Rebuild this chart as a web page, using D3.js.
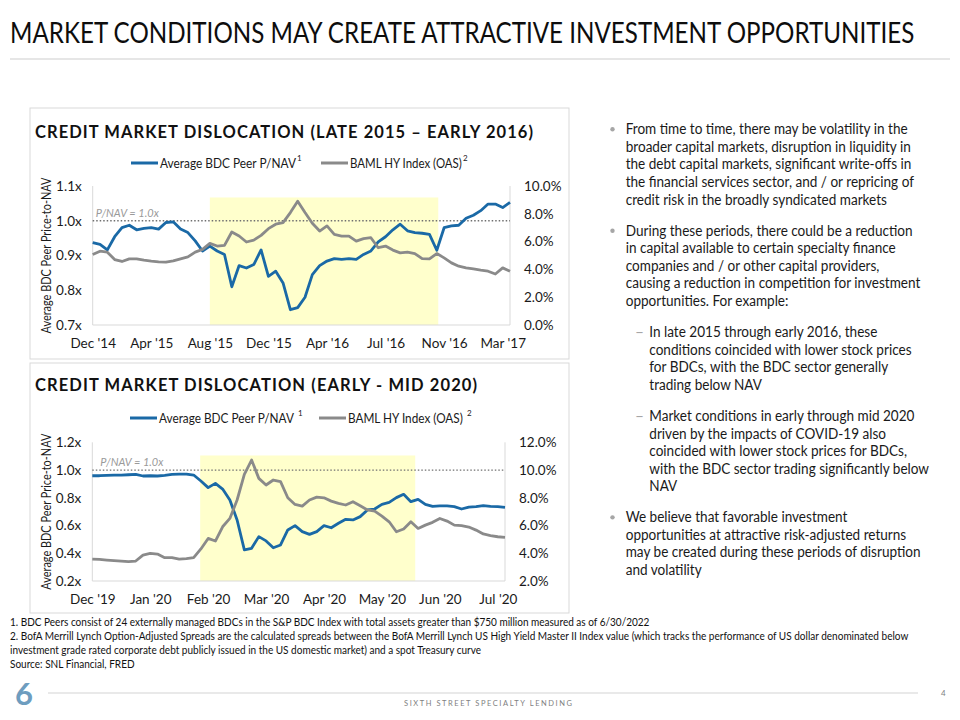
<!DOCTYPE html>
<html>
<head>
<meta charset="utf-8">
<script src="https://cdn.jsdelivr.net/npm/d3@7"></script>
<style>
  body { margin: 0; background: #fff; }
  svg { display: block; }
  text { font-family: Lato, "Open Sans", "DejaVu Sans", sans-serif; }
</style>
</head>
<body>
<svg id="slide" width="960" height="720"></svg>
<script>
// ---- data ----
const topTicks = ["Dec '14", "Apr '15", "Aug '15", "Dec '15", "Apr '16", "Jul '16", "Nov '16", "Mar '17"];
const topPNav = [0.937, 0.932, 0.916, 0.954, 0.980, 0.987, 0.974, 0.978, 0.980, 0.976,
  0.995, 0.997, 0.976, 0.966, 0.942, 0.913, 0.927, 0.913, 0.903, 0.810,
  0.871, 0.864, 0.874, 0.916, 0.840, 0.855, 0.821, 0.744, 0.750, 0.780,
  0.845, 0.871, 0.884, 0.891, 0.889, 0.891, 0.889, 0.903, 0.913, 0.939,
  0.954, 0.974, 0.990, 0.971, 0.966, 0.964, 0.961, 0.915, 0.980, 0.985,
  0.987, 1.007, 1.016, 1.029, 1.048, 1.048, 1.038, 1.053];
const topOas = [5.07, 5.31, 5.24, 4.71, 4.57, 4.76, 4.76, 4.66, 4.59, 4.54,
  4.52, 4.61, 4.76, 4.90, 5.24, 5.44, 5.87, 5.68, 5.73, 6.69,
  6.40, 5.97, 6.11, 6.45, 6.93, 7.25, 7.37, 8.09, 8.90, 8.09,
  7.32, 6.76, 7.13, 6.52, 6.40, 6.40, 6.04, 6.21, 6.28, 5.56,
  5.68, 5.39, 5.19, 5.24, 5.14, 4.78, 4.76, 5.14, 4.83, 4.47,
  4.23, 4.11, 4.03, 3.94, 3.87, 3.67, 4.11, 3.87];
const topShade = [16.0, 47.2];

const bottomTicks = ["Dec '19", "Jan '20", "Feb '20", "Mar '20", "Apr '20", "May '20", "Jun '20", "Jul '20"];
const bottomPNav = [0.959, 0.959, 0.962, 0.964, 0.964, 0.966, 0.969, 0.957, 0.959, 0.957,
  0.962, 0.969, 0.971, 0.971, 0.964, 0.921, 0.873, 0.904, 0.863, 0.784,
  0.640, 0.424, 0.436, 0.520, 0.489, 0.440, 0.460, 0.568, 0.599, 0.556,
  0.536, 0.556, 0.599, 0.584, 0.616, 0.645, 0.640, 0.664, 0.712, 0.719,
  0.753, 0.767, 0.801, 0.825, 0.772, 0.789, 0.753, 0.738, 0.741, 0.741,
  0.736, 0.719, 0.733, 0.736, 0.743, 0.738, 0.736, 0.731];
const bottomOas = [3.58, 3.56, 3.51, 3.47, 3.44, 3.39, 3.44, 3.87, 3.99, 3.94,
  3.68, 3.68, 3.58, 3.61, 3.68, 4.31, 5.07, 4.88, 5.91, 6.51,
  7.84, 9.69, 10.72, 9.40, 8.92, 9.28, 9.16, 8.00, 7.52, 7.40,
  7.84, 8.05, 8.00, 7.76, 7.60, 7.48, 7.72, 7.43, 7.12, 7.04,
  6.68, 6.27, 5.55, 5.75, 6.27, 5.79, 6.03, 6.23, 6.51, 6.32,
  6.03, 5.99, 5.89, 5.67, 5.39, 5.27, 5.19, 5.15];
const bottomShade = [14.9, 44.6];

const seriesNames = ["Average BDC Peer P/NAV", "BAML HY Index (OAS)"];

const bullets = [
  { kind: "bullet", lines: ["From time to time, there may be volatility in the",
    "broader capital markets, disruption in liquidity in",
    "the debt capital markets, significant write-offs in",
    "the financial services sector, and / or repricing of",
    "credit risk in the broadly syndicated markets"] },
  { kind: "bullet", lines: ["During these periods, there could be a reduction",
    "in capital available to certain specialty finance",
    "companies and / or other capital providers,",
    "causing a reduction in competition for investment",
    "opportunities. For example:"] },
  { kind: "dash", lines: ["In late 2015 through early 2016, these",
    "conditions coincided with lower stock prices",
    "for BDCs, with the BDC sector generally",
    "trading below NAV"] },
  { kind: "dash", lines: ["Market conditions in early through mid 2020",
    "driven by the impacts of COVID-19 also",
    "coincided with lower stock prices for BDCs,",
    "with the BDC sector trading significantly below",
    "NAV"] },
  { kind: "bullet", lines: ["We believe that favorable investment",
    "opportunities at attractive risk-adjusted returns",
    "may be created during these periods of disruption",
    "and volatility"] }
];

const footnotes = [
  "1. BDC Peers consist of 24 externally managed BDCs in the S&P BDC Index with total assets greater than $750 million measured as of 6/30/2022",
  "2. BofA Merrill Lynch Option-Adjusted Spreads are the calculated spreads between the BofA Merrill Lynch US High Yield Master II Index value (which tracks the performance of US dollar denominated below",
  "investment grade rated corporate debt publicly issued in the US domestic market) and a spot Treasury curve",
  "Source: SNL Financial, FRED"
];

const BLUE = "#1a69a6";
const GRAY = "#8a8a8a";

const svg = d3.select("svg#slide");

// squeeze a text horizontally so it spans `w` px (slide font is narrower than ours)
function squeezeTo(t, x, y, w) {
  const nat = t.node().getComputedTextLength();
  t.attr("x", 0).attr("y", 0).attr("transform", `translate(${x},${y}) scale(${w / nat},1)`);
}

// ---- slide header ----
const title = svg.append("text")
  .attr("font-size", 28).attr("fill", "#0d0d0d")
  .text("MARKET CONDITIONS MAY CREATE ATTRACTIVE INVESTMENT OPPORTUNITIES");
squeezeTo(title, 10, 43, 905);
svg.append("line").attr("x1", 10).attr("x2", 950).attr("y1", 59).attr("y2", 59)
  .attr("stroke", "#dedede").attr("stroke-width", 1.5);

function drawChart(cfg) {
  const g = svg.append("g");
  g.append("rect")
    .attr("x", cfg.box[0]).attr("y", cfg.box[1])
    .attr("width", cfg.box[2] - cfg.box[0]).attr("height", cfg.box[3] - cfg.box[1])
    .attr("fill", "none").attr("stroke", "#d9d9d9");

  g.append("text")
    .attr("x", 35).attr("y", cfg.titleY)
    .attr("font-size", 16.5).attr("font-weight", 700).attr("fill", "#111")
    .attr("textLength", cfg.titleW).attr("lengthAdjust", "spacing")
    .text(cfg.title);

  // legend
  const lg = g.append("g").attr("font-size", 12.5).attr("fill", "#1a1a1a");
  const ly = cfg.legendY;
  [[cfg.leg[0], BLUE, seriesNames[0], "1", cfg.legW[0]], [cfg.leg[1], GRAY, seriesNames[1], "2", cfg.legW[1]]]
    .forEach(([xs, col, name, sup, w]) => {
      lg.append("line").attr("x1", xs).attr("x2", xs + 27).attr("y1", ly).attr("y2", ly)
        .attr("stroke", col).attr("stroke-width", 3);
      const t = lg.append("text").text(name);
      squeezeTo(t, xs + 29, ly + 4.5, w);
      lg.append("text").attr("x", xs + 29 + w + cfg.supDx).attr("y", ly - 2)
        .attr("font-size", 8).text(sup);
    });

  const n = cfg.pnav.length;
  const x = d3.scaleLinear().domain([0, n - 1]).range([cfg.x0, cfg.x1]);
  const yL = d3.scaleLinear().domain(cfg.leftDomain).range([cfg.yB, cfg.yT]);
  const yR = d3.scaleLinear().domain(cfg.rightDomain).range([cfg.yB, cfg.yT]);

  // highlighted dislocation window
  g.append("rect")
    .attr("x", x(cfg.shade[0])).attr("width", x(cfg.shade[1]) - x(cfg.shade[0]))
    .attr("y", yL(cfg.shadeTop)).attr("height", cfg.yB - yL(cfg.shadeTop))
    .attr("fill", "#ffffcc");

  // frame
  g.append("path")
    .attr("d", `M${cfg.x0},${cfg.yT}V${cfg.yB}H${cfg.x1}V${cfg.yT}`)
    .attr("fill", "none").attr("stroke", "#d9d9d9");

  // axes
  const left = g.append("g").attr("transform", `translate(${cfg.x0},0)`)
    .call(d3.axisLeft(yL).tickValues(cfg.leftTicks).tickSize(0).tickPadding(11)
      .tickFormat(d => d.toFixed(1) + "x"));
  const right = g.append("g").attr("transform", `translate(${cfg.x1},0)`)
    .call(d3.axisRight(yR).tickValues(cfg.rightTicks).tickSize(0).tickPadding(cfg.rightPad)
      .tickFormat(d => d.toFixed(1) + "%"));
  const bottom = g.append("g").attr("transform", `translate(0,${cfg.yB})`)
    .call(d3.axisBottom(x).tickValues(cfg.ticks.map((d, i) => i * 8)).tickSize(0).tickPadding(13)
      .tickFormat((d, i) => cfg.ticks[i]));
  [left, right, bottom].forEach(a => {
    a.select(".domain").remove();
    a.selectAll("text").attr("font-family", "Lato, sans-serif").attr("font-size", 13.5).attr("fill", "#1a1a1a");
  });

  g.append("text")
    .attr("transform", `translate(51,${(cfg.yT + cfg.yB) / 2}) rotate(-90)`)
    .attr("text-anchor", "middle").attr("font-size", 12.5).attr("fill", "#1a1a1a")
    .attr("textLength", 156).attr("lengthAdjust", "spacingAndGlyphs")
    .text("Average BDC Peer Price-to-NAV");

  // P/NAV = 1.0x reference
  g.append("line").attr("x1", cfg.x0).attr("x2", cfg.x1).attr("y1", yL(1)).attr("y2", yL(1))
    .attr("stroke", "#707070").attr("stroke-width", 1.3).attr("stroke-dasharray", "1.5,2");
  g.append("text").attr("x", cfg.x0 + cfg.navDx).attr("y", yL(1) - 4)
    .attr("font-size", 11).attr("font-style", "italic").attr("fill", "#9a9a9a")
    .text("P/NAV = 1.0x");

  const blueLine = d3.line().x((d, i) => x(i)).y(d => yL(d));
  const grayLine = d3.line().x((d, i) => x(i)).y(d => yR(d));
  g.append("path").attr("d", blueLine(cfg.pnav)).attr("fill", "none")
    .attr("stroke", BLUE).attr("stroke-width", 2.8).attr("stroke-linejoin", "round");
  g.append("path").attr("d", grayLine(cfg.oas)).attr("fill", "none")
    .attr("stroke", GRAY).attr("stroke-width", 2.8).attr("stroke-linejoin", "round");
}

drawChart({
  box: [30, 108, 569, 359], title: "CREDIT MARKET DISLOCATION (LATE 2015 – EARLY 2016)", titleY: 138, titleW: 498,
  legendY: 163, leg: [131, 321], legW: [136, 112], supDx: 1,
  x0: 92.7, x1: 510, yT: 186, yB: 325,
  leftDomain: [0.7, 1.1], leftTicks: [0.7, 0.8, 0.9, 1.0, 1.1],
  rightDomain: [0, 10], rightTicks: [0, 2, 4, 6, 8, 10], rightPad: 14,
  ticks: topTicks, pnav: topPNav, oas: topOas, shade: topShade, shadeTop: 1.067, navDx: 3
});

drawChart({
  box: [30, 363, 569, 613], title: "CREDIT MARKET DISLOCATION (EARLY - MID 2020)", titleY: 391, titleW: 442,
  legendY: 418, leg: [130, 319], legW: [135, 115], supDx: 4,
  x0: 92.3, x1: 505, yT: 442.3, yB: 581,
  leftDomain: [0.2, 1.2], leftTicks: [0.2, 0.4, 0.6, 0.8, 1.0, 1.2],
  rightDomain: [2, 12], rightTicks: [2, 4, 6, 8, 10, 12], rightPad: 14,
  ticks: bottomTicks, pnav: bottomPNav, oas: bottomOas, shade: bottomShade, shadeTop: 1.105, navDx: 8
});

// ---- right-hand commentary ----
const body = svg.append("g").attr("font-size", 15.5).attr("fill", "#1a1a1a");
let cy = 129.3;
const bodyTexts = [];
bullets.forEach(p => {
  const tx = p.kind === "bullet" ? 625.7 : 649.3;
  if (p.kind === "bullet") {
    body.append("circle").attr("cx", 612.5).attr("cy", cy).attr("r", 2.2).attr("fill", "#a6a6a6");
  } else {
    body.append("text").attr("x", 635).attr("y", cy + 5).attr("fill", "#a6a6a6").text("–");
  }
  p.lines.forEach((ln, i) => {
    bodyTexts.push({ t: body.append("text").text(ln), x: tx, y: cy + 5 });
    if (i < p.lines.length - 1) cy += 17.55;
  });
  cy += 31.2;
});
const bodySq = 295 / bodyTexts[8].t.node().getComputedTextLength();
bodyTexts.forEach(b => squeezeTo(b.t, b.x, b.y, b.t.node().getComputedTextLength() * bodySq));

// ---- footnotes ----
const notes = svg.append("g").attr("font-size", 10.5).attr("fill", "#111");
const noteTexts = footnotes.map(f => notes.append("text").text(f));
const noteSq = 900 / noteTexts[1].node().getComputedTextLength();
noteTexts.forEach((t, i) => squeezeTo(t, 10, [626, 640, 654, 668][i], t.node().getComputedTextLength() * noteSq));

// ---- footer ----
svg.append("text").attr("x", 15).attr("y", 705).attr("font-size", 31).attr("font-weight", 700)
  .attr("fill", "#6e9dbf").text("6");
svg.append("line").attr("x1", 48).attr("x2", 918).attr("y1", 693).attr("y2", 693)
  .attr("stroke", "#e2e2e2").attr("stroke-width", 1.5);
svg.append("text").attr("x", 404).attr("y", 706).attr("font-size", 7.5).attr("fill", "#808080")
  .attr("textLength", 168).attr("lengthAdjust", "spacing")
  .text("SIXTH STREET SPECIALTY LENDING");
svg.append("text").attr("x", 941).attr("y", 696).attr("font-size", 8).attr("fill", "#808080").text("4");
</script>
</body>
</html>
